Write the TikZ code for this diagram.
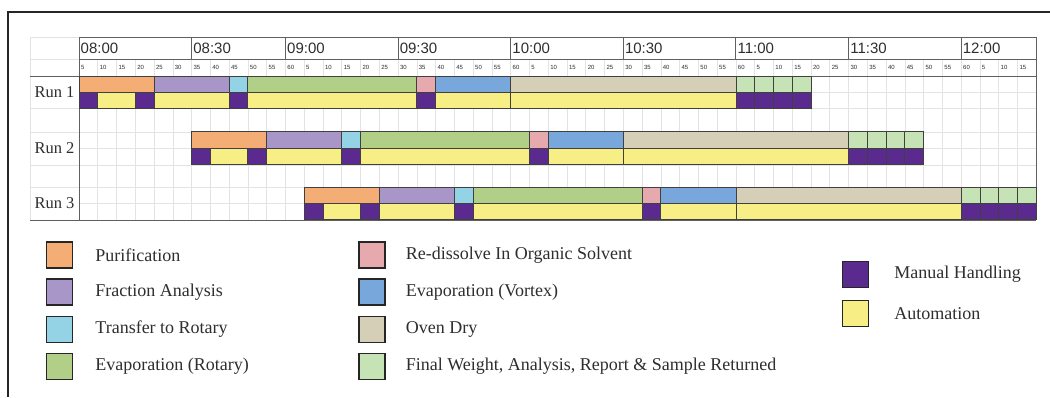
\documentclass[tikz,border=0pt]{standalone}
\usepackage{fontspec}
\setmainfont{Liberation Serif}
\newfontfamily\hdrfont{Liberation Sans}
\usetikzlibrary{positioning}

\definecolor{purif}{HTML}{F4AD74}
\definecolor{fraction}{HTML}{A896C8}
\definecolor{transfer}{HTML}{94D3E6}
\definecolor{evaprot}{HTML}{B1CF87}
\definecolor{redis}{HTML}{E6A9AE}
\definecolor{evapvor}{HTML}{78A8DB}
\definecolor{oven}{HTML}{D4CFB6}
\definecolor{final}{HTML}{C5E3B5}
\definecolor{manual}{HTML}{5A2A8E}
\definecolor{auto}{HTML}{F7EF85}
\definecolor{inkgray}{HTML}{2E2E2E}

\def\cw{18.77}

\begin{document}
\begin{tikzpicture}[x=1pt, y=-1pt,
    bar/.style={draw=black!75, line width=0.9pt},
    gridline/.style={draw=gray!22, line width=0.7pt},
    darkline/.style={draw=gray!75!black, line width=1pt},
    hourtext/.style={font=\hdrfont\fontsize{15}{16}\selectfont, text=inkgray, anchor=west, inner sep=0pt},
    ticktext/.style={font=\hdrfont\fontsize{6}{7}\selectfont, text=inkgray, anchor=west, inner sep=0pt},
    runlabel/.style={font=\fontsize{16.5}{18}\selectfont, text=inkgray, inner sep=0pt},
    key/.style={draw=black!85, line width=1.4pt, minimum width=26pt, minimum height=26pt, inner sep=0pt},
    keytext/.style={font=\fontsize{18}{20}\selectfont, text=inkgray, anchor=west, inner sep=0pt}
]
    \useasboundingbox (0,0) rectangle (1050,397);
    \fill[white] (0,0) rectangle (1050,397);

    % outer frame
    \draw[black!85, line width=1.5pt] (8,397) -- (8,12) -- (1050,12);

    % grid
    \foreach \c in {1,...,50}
        \draw[gridline] ({79+\c*\cw},59) -- ({79+\c*\cw},220);
    \foreach \y in {108,132,165,187}
        \draw[gridline] (30,\y) -- ({79+51*\cw},\y);
    \foreach \y in {92,148,203}
        \draw[gridline] (79,\y) -- ({79+51*\cw},\y);
    \draw[gridline] (30,37) -- (30,220);
    \draw[gridline] (30,37) -- (79,37);
    \draw[gridline] (30,59) -- (79,59);

    % hour header
    \foreach \a/\b/\t [count=\i] in {0/6/08:00, 6/11/08:30, 11/17/09:00, 17/23/09:30, 23/29/10:00, 29/35/10:30, 35/41/11:00, 41/47/11:30, 47/51/12:00} {
        \draw[darkline] ({79+\a*\cw},37) rectangle ({79+\b*\cw},59);
        \node[hourtext] (hour\i) at ({79+\a*\cw+1.5},48.5) {\t};
    }

    % minute ticks
    \foreach \c in {0,...,50} {
        \pgfmathtruncatemacro{\m}{5*(mod(\c,12)+1)}
        \node[ticktext] (tick\c) at ({79+\c*\cw+1.8},67.5) {\m};
    }

    \draw[darkline] (30,76) -- ({79+51*\cw},76);
    \draw[darkline] (79,37) -- (79,220);
    \draw[darkline] ({79+51*\cw},37) -- ({79+51*\cw},220);
    \draw[darkline] (30,220) -- ({79+51*\cw},220);

    % runs
    \foreach \s/\yt [count=\i] in {0/76, 6/131.7, 12/187} {
        \foreach \a/\b/\c in {0/4/purif, 4/8/fraction, 8/9/transfer, 9/18/evaprot, 18/19/redis, 19/23/evapvor, 23/35/oven, 35/36/final, 36/37/final, 37/38/final, 38/39/final}
            \draw[bar, fill=\c] ({79+(\s+\a)*\cw},\yt) rectangle ({79+(\s+\b)*\cw},\yt+16.3);
        \foreach \a/\b/\c in {0/1/manual, 1/3/auto, 3/4/manual, 4/8/auto, 8/9/manual, 9/18/auto, 18/19/manual, 19/23/auto, 23/35/auto, 35/36/manual, 36/37/manual, 37/38/manual, 38/39/manual}
            \draw[bar, fill=\c] ({79+(\s+\a)*\cw},\yt+16.3) rectangle ({79+(\s+\b)*\cw},\yt+32.6);
        \node[runlabel] (run\i) at (54.5,\yt+16.3) {Run \i};
    }

    % legend
    \node[key, fill=purif] (kpurif) at (59.5,255) {};
    \node[key, fill=fraction] (kfraction) at (59.5,292) {};
    \node[key, fill=transfer] (ktransfer) at (59.5,329.5) {};
    \node[key, fill=evaprot] (kevaprot) at (59.5,366.5) {};
    \node[key, fill=redis] (kredis) at (372,255) {};
    \node[key, fill=evapvor] (kevapvor) at (372,292) {};
    \node[key, fill=oven] (koven) at (372,329.5) {};
    \node[key, fill=final] (kfinal) at (372,366.5) {};
    \node[key, fill=manual] (kmanual) at (855.5,274.5) {};
    \node[key, fill=auto] (kauto) at (855.5,313.5) {};

    \node[keytext, right=22pt of kpurif] (tpurif) {Purification};
    \node[keytext, right=22pt of kfraction] (tfraction) {Fraction Analysis};
    \node[keytext, right=22pt of ktransfer] (ttransfer) {Transfer to Rotary};
    \node[keytext, right=22pt of kevaprot] (tevaprot) {Evaporation (Rotary)};
    \node[keytext, right=20pt of kredis] (tredis) {Re-dissolve In Organic Solvent};
    \node[keytext, right=20pt of kevapvor] (tevapvor) {Evaporation (Vortex)};
    \node[keytext, right=20pt of koven] (toven) {Oven Dry};
    \node[keytext, right=20pt of kfinal] (tfinal) {Final Weight, Analysis, Report \& Sample Returned};
    \node[keytext, right=25pt of kmanual] (tmanual) {Manual Handling};
    \node[keytext, right=25pt of kauto] (tauto) {Automation};
\end{tikzpicture}
\end{document}
